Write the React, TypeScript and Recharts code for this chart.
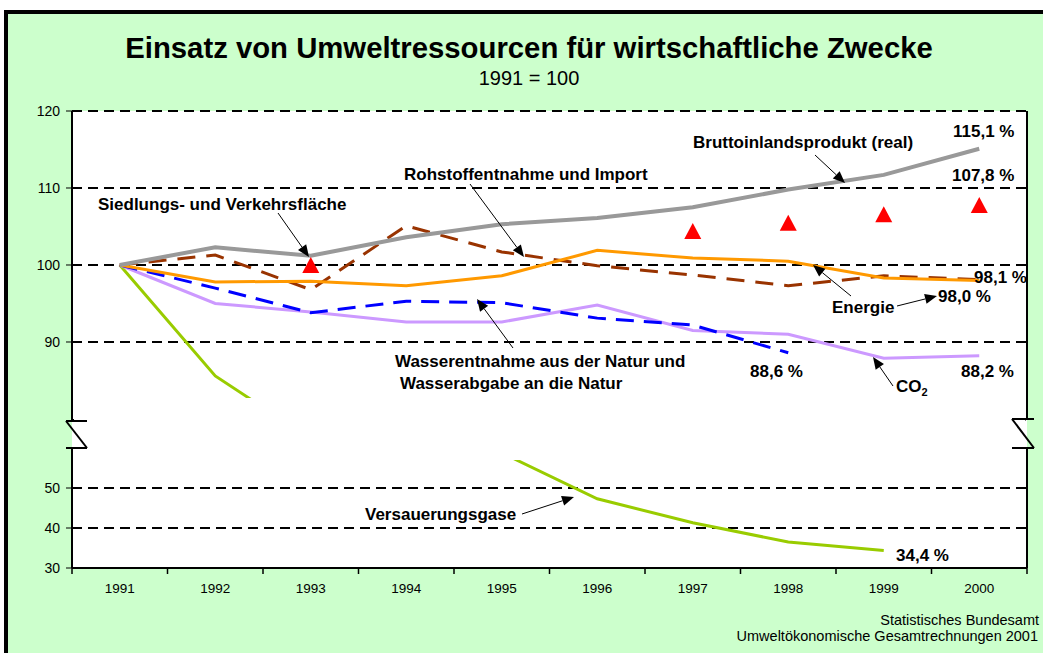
import React from 'react';
import { LineChart, Line, XAxis, YAxis, CartesianGrid } from 'recharts';

const FONT = '"Liberation Sans", Arial, Helvetica, sans-serif';

// ---- data (1991 = 100) ----
const years = ['1991', '1992', '1993', '1994', '1995', '1996', '1997', '1998', '1999', '2000'];
const bip = [100, 102.3, 101.2, 103.6, 105.3, 106.1, 107.5, 109.8, 111.7, 115.1];
const rohstoff = [100, 101.3, 96.8, 105.1, 101.7, 99.9, 98.7, 97.3, 98.6, 98.1];
const energie = [100, 97.8, 97.9, 97.3, 98.6, 101.9, 100.9, 100.5, 98.3, 98.0];
const wasser = [100, 97.0, 93.8, 95.3, 95.1, 93.1, 92.2, 88.6, null, null];
const co2 = [100, 95.0, 93.9, 92.6, 92.6, 94.8, 91.5, 91.0, 87.9, 88.2];
const siedlung = [null, null, 100.0, null, null, null, 104.4, 105.5, 106.6, 107.8];
const versauerung = [100, 85.6, 77.4, 68.0, 58.8, 47.3, 41.3, 36.5, 34.4, null];

const upperTicks = [90, 100, 110, 120];
const lowerTicks = [30, 40, 50];
// boundaries (integers) get tick marks, centres (halves) get the year labels
const xTicks = [0, 0.5, 1, 1.5, 2, 2.5, 3, 3.5, 4, 4.5, 5, 5.5, 6, 6.5, 7, 7.5, 8, 8.5, 9, 9.5, 10];

const rows = years.map((year, i) => ({
  pos: i + 0.5,
  year,
  bip: bip[i],
  rohstoff: rohstoff[i],
  energie: energie[i],
  wasser: wasser[i],
  co2: co2[i],
  siedlung: siedlung[i],
  versauerung: versauerung[i],
}));

const YearTick = (props: any) => {
  const { x, y, payload } = props;
  const v = payload.value;
  if (Number.isInteger(v)) {
    return <line x1={x} x2={x} y1={y - 15} y2={y - 9} stroke="#000" strokeWidth={1.5} />;
  }
  return (
    <text x={x} y={y} dy="0.71em" textAnchor="middle" fontSize={13.5} fontFamily={FONT} fill="#000">
      {years[Math.floor(v)]}
    </text>
  );
};

const TriangleDot = (props: any) => {
  const { cx, cy, value } = props;
  if (cx == null || cy == null || value == null) return null;
  return (
    <polygon
      key={`tri-${cx}`}
      points={`${cx},${cy - 8} ${cx + 8.5},${cy + 8} ${cx - 8.5},${cy + 8}`}
      fill="#FF0000"
    />
  );
};

const Arrow = ({ x1, y1, x2, y2 }: { x1: number; y1: number; x2: number; y2: number }) => {
  const dx = x2 - x1;
  const dy = y2 - y1;
  const len = Math.sqrt(dx * dx + dy * dy);
  const ux = dx / len;
  const uy = dy / len;
  const hl = 12;
  const hw = 5;
  const bx = x2 - ux * hl;
  const by = y2 - uy * hl;
  return (
    <g>
      <line x1={x1} y1={y1} x2={bx} y2={by} stroke="#000" strokeWidth={1} />
      <polygon
        points={`${x2},${y2} ${bx - uy * hw},${by + ux * hw} ${bx + uy * hw},${by - ux * hw}`}
        fill="#000"
      />
    </g>
  );
};

const axisLine = { stroke: '#000', strokeWidth: 2 };
const yTick = { fill: '#000', fontSize: 14, fontFamily: FONT };

const Label = ({ x, y, children, size = 17 }: any) => (
  <text x={x} y={y} fontSize={size} fontWeight="bold" fontFamily={FONT} fill="#000">
    {children}
  </text>
);

export default function App() {
  return (
    <div style={{ position: 'absolute', left: 0, top: 0, width: 1043, height: 653, background: '#fff', fontFamily: FONT, overflow: 'hidden' }}>
      {/* green frame */}
      <div
        style={{
          position: 'absolute',
          left: 4,
          top: 10,
          width: 1043,
          height: 653,
          background: '#CCFFCC',
          borderLeft: '4px solid #000',
          borderTop: '4px solid #000',
        }}
      />
      {/* white plot area */}
      <div style={{ position: 'absolute', left: 72, top: 111, width: 955, height: 457, background: '#fff' }} />

      {/* upper section of the broken axis */}
      <div style={{ position: 'absolute', left: 0, top: 0 }}>
        <LineChart width={1043} height={430} data={rows} margin={{ top: 111, right: 15, bottom: 10, left: 12 }}>
          <CartesianGrid vertical={false} stroke="#000" strokeWidth={2} strokeDasharray="10 6" />
          <XAxis type="number" dataKey="pos" domain={[0, 10]} hide />
          <YAxis
            domain={[79.87, 120]}
            ticks={upperTicks}
            allowDataOverflow
            width={60}
            tickSize={6}
            tickMargin={6}
            axisLine={axisLine}
            tickLine={{ stroke: '#000' }}
            tick={yTick}
          />
          <YAxis yAxisId="r" orientation="right" width={1} domain={[0, 1]} tick={false} tickLine={false} axisLine={axisLine} />
          <Line dataKey="versauerung" stroke="#99CC00" strokeWidth={3} dot={false} isAnimationActive={false} />
          <Line dataKey="co2" stroke="#CC99FF" strokeWidth={3} dot={false} isAnimationActive={false} />
          <Line dataKey="wasser" stroke="#0000FF" strokeWidth={3} strokeDasharray="18 10" dot={false} isAnimationActive={false} />
          <Line dataKey="rohstoff" stroke="#993300" strokeWidth={3} strokeDasharray="18 11" dot={false} isAnimationActive={false} />
          <Line dataKey="energie" stroke="#FF9900" strokeWidth={3} dot={false} isAnimationActive={false} />
          <Line dataKey="bip" stroke="#999999" strokeWidth={4} dot={false} isAnimationActive={false} />
          <Line dataKey="siedlung" stroke="none" strokeWidth={0} dot={TriangleDot} activeDot={false} isAnimationActive={false} />
        </LineChart>
      </div>

      {/* lower section of the broken axis */}
      <div style={{ position: 'absolute', left: 0, top: 0 }}>
        <LineChart width={1043} height={610} data={rows} margin={{ top: 448, right: 15, bottom: 10, left: 12 }}>
          <CartesianGrid vertical={false} stroke="#000" strokeWidth={2} strokeDasharray="10 6" />
          <XAxis
            type="number"
            dataKey="pos"
            domain={[0, 10]}
            ticks={xTicks}
            interval={0}
            height={32}
            tickSize={5}
            tickMargin={10}
            tickLine={false}
            axisLine={axisLine}
            tick={YearTick}
          />
          <YAxis
            domain={[30, 60]}
            ticks={lowerTicks}
            allowDataOverflow
            width={60}
            tickSize={6}
            tickMargin={6}
            axisLine={axisLine}
            tickLine={{ stroke: '#000' }}
            tick={yTick}
          />
          <YAxis yAxisId="r" orientation="right" width={1} domain={[0, 1]} tick={false} tickLine={false} axisLine={axisLine} />
          <Line dataKey="versauerung" stroke="#99CC00" strokeWidth={3} dot={false} isAnimationActive={false} />
        </LineChart>
      </div>

      {/* overlay: axis break, titles, annotations */}
      <svg width={1043} height={653} style={{ position: 'absolute', left: 0, top: 0, pointerEvents: 'none' }}>
        <rect x={74} y={398} width={951.5} height={62} fill="#fff" />
        {/* break marks */}
        <g stroke="#000" strokeWidth={2} fill="none">
          <line x1={66} y1={421} x2={87} y2={421} />
          <line x1={66} y1={421} x2={87} y2={448} />
          <line x1={66} y1={448} x2={87} y2={448} />
          <line x1={1012} y1={419} x2={1034} y2={419} />
          <line x1={1012} y1={419} x2={1034} y2={448} />
          <line x1={1012} y1={448} x2={1034} y2={448} />
        </g>

        <text x={529} y={58} textAnchor="middle" fontSize={29.3} fontWeight="bold" fontFamily={FONT} fill="#000">
          Einsatz von Umweltressourcen für wirtschaftliche Zwecke
        </text>
        <text x={529} y={85} textAnchor="middle" fontSize={20} fontFamily={FONT} fill="#000">
          1991 = 100
        </text>

        <Label x={693} y={148}>Bruttoinlandsprodukt (real)</Label>
        <Label x={953} y={137}>115,1 %</Label>
        <Label x={952} y={181}>107,8 %</Label>
        <Label x={404} y={180}>Rohstoffentnahme und Import</Label>
        <Label x={98} y={210}>Siedlungs- und Verkehrsfläche</Label>
        <Label x={832} y={313}>Energie</Label>
        <Label x={938} y={302}>98,0 %</Label>
        <Label x={974} y={283}>98,1 %</Label>
        <Label x={395} y={367}>Wasserentnahme aus der Natur und</Label>
        <Label x={400} y={389}>Wasserabgabe an die Natur</Label>
        <Label x={750} y={377}>88,6 %</Label>
        <Label x={961} y={377}>88,2 %</Label>
        <text x={896} y={392} fontSize={17} fontWeight="bold" fontFamily={FONT} fill="#000">
          CO<tspan fontSize={11} dy={4}>2</tspan>
        </text>
        <Label x={365} y={520}>Versauerungsgase</Label>
        <Label x={896} y={561}>34,4 %</Label>

        <Arrow x1={815} y1={155} x2={845} y2={183} />
        <Arrow x1={470} y1={184} x2={524} y2={257} />
        <Arrow x1={278} y1={213} x2={309} y2={257} />
        <Arrow x1={851} y1={296} x2={813} y2={265} />
        <Arrow x1={897} y1={306} x2={937} y2={296} />
        <Arrow x1={513} y1={348} x2={477} y2={299} />
        <Arrow x1={893} y1={386} x2={873} y2={357} />
        <Arrow x1={522} y1={514} x2={574} y2={497} />

        <text x={1039} y={625} textAnchor="end" fontSize={14.5} fontFamily={FONT} fill="#000">
          Statistisches Bundesamt
        </text>
        <text x={1038} y={641} textAnchor="end" fontSize={14.5} fontFamily={FONT} fill="#000">
          Umweltökonomische Gesamtrechnungen 2001
        </text>
      </svg>
    </div>
  );
}
